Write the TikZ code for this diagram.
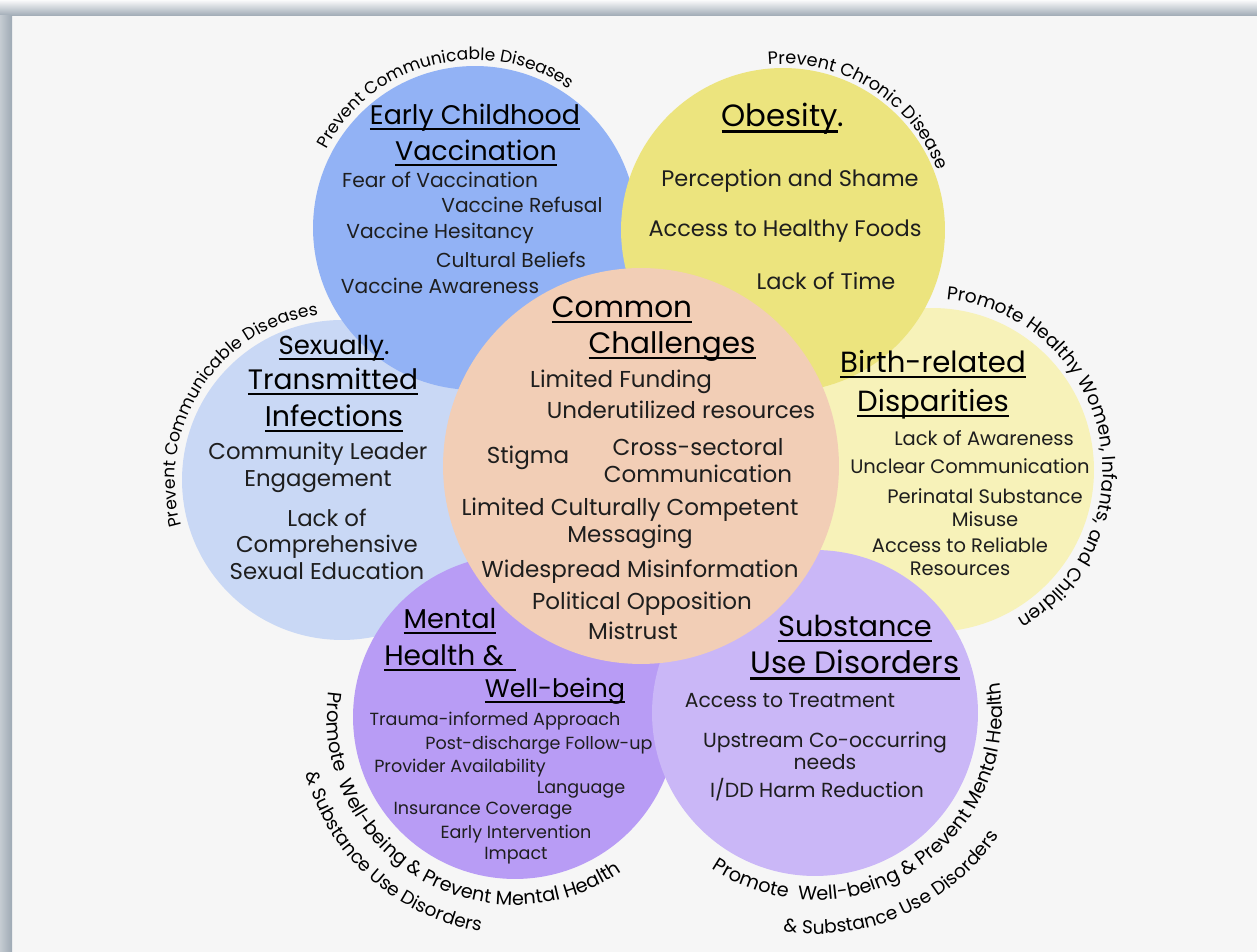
\documentclass[tikz,border=0pt]{standalone}
\usepackage{fontspec}
\usetikzlibrary{decorations.text}
\newfontfamily\pop{Poppins}
\definecolor{bgc}{HTML}{F6F6F6}
\definecolor{frameC}{HTML}{9EA9B4}
\definecolor{vaccC}{HTML}{92B2F5}
\definecolor{obesC}{HTML}{ECE47E}
\definecolor{commC}{HTML}{F2CEB6}
\definecolor{stiC}{HTML}{C9D8F5}
\definecolor{birthC}{HTML}{F7F2B9}
\definecolor{mentC}{HTML}{B89CF5}
\definecolor{subsC}{HTML}{CAB7F7}
\definecolor{inkC}{HTML}{1E1E1E}
\newcommand\myul[1]{\setbox0=\hbox{#1}\rlap{\rule[-0.18em]{\wd0}{0.08em}}\box0}
\newcommand\fsz[1]{\pop\fontsize{#1}{#1}\selectfont}
\tikzset{
  bubble/.style={circle, draw=none, inner sep=0pt},
  txt/.style={anchor=base, inner sep=0pt, text=inkC},
  ttl/.style={anchor=base, inner sep=0pt, text=black},
  curve/.style 2 args={decorate, decoration={text along path, text align=center,
     text format delimiters={|}{|}, text={|\fsz{#1}|#2}}}
}
\begin{document}
\begin{tikzpicture}[x=0.02cm, y=0.02cm]
\useasboundingbox (0,0) rectangle (1257,952);
% page and frame
\fill[bgc] (0,0) rectangle (1257,952);
\shade[top color=white!95!frameC, bottom color=frameC] (0,936) rectangle (1257,952);
\shade[left color=white!40!frameC, right color=frameC] (0,0) rectangle (12,936);
% circles
\node[bubble, fill=stiC,  minimum size=6.40cm] (sti)   at (342,472) {};
\node[bubble, fill=birthC,minimum size=6.48cm] (birth) at (932,482) {};
\node[bubble, fill=vaccC, minimum size=6.48cm] (vacc)  at (475,724) {};
\node[bubble, fill=obesC, minimum size=6.48cm] (obes)  at (783,722) {};
\node[bubble, fill=mentC, minimum size=6.48cm] (ment)  at (515,235) {};
\node[bubble, fill=subsC, minimum size=6.52cm] (subs)  at (815,239) {};
\node[bubble, fill=commC, minimum size=7.92cm] (comm)  at (641,486) {};
% curved labels
\path[curve={9.7}{Prevent Communicable Diseases}] (vacc.center) ++(189:168) arc[start angle=189, end angle=19, radius=168];
\path[curve={10.1}{Prevent Chronic Disease}] (obes.center) ++(143:166) arc[start angle=143, end angle=-27, radius=166];
\path[curve={9.8}{Prevent Communicable Diseases}] (sti.center) ++(232:167) arc[start angle=232, end angle=62, radius=167];
\path[curve={10.6}{Promote Healthy Women, Infants, and Children}] (birth.center) ++(100:171) arc[start angle=100, end angle=-75, radius=171];
\path[curve={11}{Promote {\ }Well-being {\&} Prevent Mental Health}] (ment.center) ++(145:188) arc[start angle=145, end angle=332, radius=188];
\path[curve={10.6}{{\&} Substance Use Disorders}] (ment.center) ++(150:217) arc[start angle=150, end angle=306, radius=217];
\path[curve={11}{Promote {\ }Well-being {\&} Prevent Mental Health}] (subs.center) ++(210:187) arc[start angle=210, end angle=396, radius=187];
\path[curve={10.6}{{\&} Substance Use Disorders}] (subs.center) ++(214:221) arc[start angle=214, end angle=374, radius=221];
% Early childhood vaccination
\node[ttl, font=\fsz{15.3}] (vt1) at (475,827) {\myul{Early Childhood}};
\node[ttl, font=\fsz{15.3}] (vt2) at (476,791) {\myul{Vaccination}};
\node[txt, font=\fsz{11.5}] (v1) at (440,764) {Fear of Vaccination};
\node[txt, font=\fsz{11.5}] (v2) at (522,739) {Vaccine Refusal};
\node[txt, font=\fsz{11.5}] (v3) at (440,713) {Vaccine Hesitancy};
\node[txt, font=\fsz{11.5}] (v4) at (511,684) {Cultural Beliefs};
\node[txt, font=\fsz{11.5}] (v5) at (440,658) {Vaccine Awareness};
% Obesity
\node[ttl, font=\fsz{17.5}] (ot1) at (783,825) {\myul{Obesity}.};
\node[txt, font=\fsz{12.8}] (o1) at (790,765) {Perception and Shame};
\node[txt, font=\fsz{12.8}] (o2) at (785,715) {Access to Healthy Foods};
\node[txt, font=\fsz{12.8}] (o3) at (826,662) {Lack of Time};
% Common challenges
\node[ttl, font=\fsz{16.8}] (ct1) at (622,634) {\myul{Common}};
\node[ttl, font=\fsz{16.8}] (ct2) at (672,598) {\myul{Challenges}};
\node[txt, font=\fsz{13.1}] (c1) at (621,564) {Limited Funding};
\node[txt, font=\fsz{13.1}] (c2) at (681,533) {Underutilized resources};
\node[txt, font=\fsz{13.1}] (c3) at (528,488) {Stigma};
\node[txt, font=\fsz{13.1}] (c4) at (698,496) {Cross-sectoral};
\node[txt, font=\fsz{13.1}] (c5) at (698,469) {Communication};
\node[txt, font=\fsz{13.1}] (c6) at (630,436) {Limited Culturally Competent};
\node[txt, font=\fsz{13.1}] (c7) at (630,409) {Messaging};
\node[txt, font=\fsz{13.1}] (c8) at (640,374) {Widespread Misinformation};
\node[txt, font=\fsz{13.1}] (c9) at (642,342) {Political Opposition};
\node[txt, font=\fsz{13.1}] (c10) at (633,312) {Mistrust};
% Sexually transmitted infections
\node[ttl, font=\fsz{14.8}] (st1) at (334,597) {\myul{Sexually}.};
\node[ttl, font=\fsz{16}] (st2) at (333,562) {\myul{Transmitted}};
\node[ttl, font=\fsz{16.2}] (st3) at (334,525) {\myul{Infections}};
\node[txt, font=\fsz{13}] (s1) at (318,492) {Community Leader};
\node[txt, font=\fsz{13}] (s2) at (318,465) {Engagement};
\node[txt, font=\fsz{13}] (s3) at (327,425) {Lack of};
\node[txt, font=\fsz{13}] (s4) at (327,399) {Comprehensive};
\node[txt, font=\fsz{13}] (s5) at (327,372) {Sexual Education};
% Birth-related disparities
\node[ttl, font=\fsz{16.6}] (bt1) at (933,579) {\myul{Birth-related}};
\node[ttl, font=\fsz{16.6}] (bt2) at (933,540) {\myul{Disparities}};
\node[txt, font=\fsz{11.1}] (b1) at (984,506) {Lack of Awareness};
\node[txt, font=\fsz{11.1}] (b2) at (970,478) {Unclear Communication};
\node[txt, font=\fsz{11.1}] (b3) at (985,448) {Perinatal Substance};
\node[txt, font=\fsz{11.1}] (b4) at (985,425) {Misuse};
\node[txt, font=\fsz{11.1}] (b5) at (960,399) {Access to Reliable};
\node[txt, font=\fsz{11.1}] (b6) at (960,376) {Resources};
% Mental health
\node[ttl, font=\fsz{15.5}] (mt1) at (450,323) {\myul{Mental}};
\node[ttl, font=\fsz{16}] (mt2) at (450,286) {\myul{Health \& \,}};
\node[ttl, font=\fsz{14.5}] (mt3) at (555,254) {\myul{Well-being}};
\node[txt, font=\fsz{10}] (m1) at (495,226) {Trauma-informed Approach};
\node[txt, font=\fsz{10}] (m2) at (539,202) {Post-discharge Follow-up};
\node[txt, font=\fsz{10}] (m3) at (460,179) {Provider Availability};
\node[txt, font=\fsz{10}] (m4) at (581,158) {Language};
\node[txt, font=\fsz{10}] (m5) at (483,137) {Insurance Coverage};
\node[txt, font=\fsz{10}] (m6) at (516,113) {Early Intervention};
\node[txt, font=\fsz{10}] (m7) at (516,92) {Impact};
% Substance use disorders
\node[ttl, font=\fsz{16.4}] (ut1) at (855,315) {\myul{Substance}};
\node[ttl, font=\fsz{17.6}] (ut2) at (855,278) {\myul{Use Disorders}};
\node[txt, font=\fsz{11.6}] (u1) at (790,244) {Access to Treatment};
\node[txt, font=\fsz{11.6}] (u2) at (825,204) {Upstream Co-occurring};
\node[txt, font=\fsz{11.6}] (u3) at (825,182) {needs};
\node[txt, font=\fsz{11.6}] (u4) at (817,154) {I/DD Harm Reduction};
\end{tikzpicture}
\end{document}
